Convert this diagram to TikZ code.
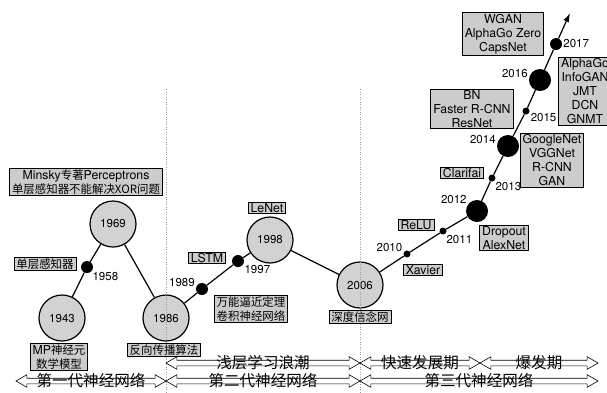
\documentclass[tikz,border=0pt]{standalone}
\usepackage{fontspec}
\setmainfont{TeX Gyre Heros}
\newfontfamily\cjk[Scale=0.93]{Noto Sans CJK SC}
\usetikzlibrary{arrows.meta,shapes.arrows}

\begin{document}
\begin{tikzpicture}[x=1pt,y=-1pt,
    year/.style={circle,draw,line width=1.2pt,fill=gray!35,minimum size=46pt,inner sep=0pt,font=\fontsize{11.5}{13}\selectfont},
    bigdot/.style={circle,fill,inner sep=0pt,minimum size=22pt},
    middot/.style={circle,fill,inner sep=0pt,minimum size=12pt},
    smalldot/.style={circle,fill,inner sep=0pt,minimum size=7pt},
    yr/.style={font=\fontsize{11.5}{13}\selectfont,inner sep=1pt},
    event/.style={draw,fill=gray!40,line width=0.8pt,inner xsep=2.5pt,inner ysep=1pt,align=center,font=\fontsize{12.3}{14.2}\selectfont},
    phase/.style={double arrow,draw,line width=0.6pt,inner xsep=0pt,inner ysep=2.5pt,double arrow head extend=3.5pt,double arrow tip angle=60},
    phasetext/.style={font=\cjk\fontsize{16.7}{18}\selectfont,inner sep=0pt}
]
    \useasboundingbox (0,0) rectangle (607,392);
    % Circles
    \node[year] (y1943) at (62,318) {1943};
    \node[year] (y1969) at (113,224) {1969};
    \node[year] (y1986) at (166,318) {1986};
    \node[year] (y1998) at (270,240) {1998};
    \node[year] (y2006) at (360,285) {2006};
    % Dots
    \node[middot,label={[yr]-45:1958}] (d1958) at (87,267) {};
    \node[middot,label={[yr]168:1989}] (d1989) at (202,289) {};
    \node[middot,label={[yr]-30:1997}] (d1997) at (238,261) {};
    \node[smalldot,label={[yr]165:2010}] (d2010) at (407,254) {};
    \node[smalldot,label={[yr]-50:2011}] (d2011) at (443,231) {};
    \node[bigdot,label={[yr]145:2012}] (d2012) at (477,211) {};
    \node[smalldot,label={[yr]-50:2013}] (d2013) at (492,178) {};
    \node[bigdot,label={[yr]175:2014}] (d2014) at (508,146) {};
    \node[smalldot,label={[yr]-15:2015}] (d2015) at (526,111) {};
    \node[bigdot,label={[yr]175:2016}] (d2016) at (540,80) {};
    \node[middot,label={[yr]0:2017}] (d2017) at (556,44) {};
    \coordinate (tip) at (570,13);
    % Timeline
    \draw[line width=1.2pt,-{Latex[length=9pt,width=6pt]}] (y1943) -- (d1958) -- (y1969) -- (y1986) -- (d1989) -- (d1997) -- (y1998) -- (y2006)
        -- (d2010) -- (d2011) -- (d2012) -- (d2013) -- (d2014) -- (d2015) -- (d2016) -- (d2017) -- (tip);
    % Eras
    \draw[gray!80,line width=0.6pt,dash pattern=on 1pt off 1.5pt] (166,89) -- (166,392);
    \draw[gray!80,line width=0.6pt,dash pattern=on 1pt off 1.5pt] (360,89) -- (360,392);
    % Events
    \node[event] (minsky) at (86,182) {Minsky{\cjk 专著}Perceptrons\\{\cjk 单层感知器不能解决XOR问题}};
    \node[event] (slp) at (45,264) {\cjk 单层感知器};
    \node[event] (mp) at (59,357) {MP{\cjk 神经元}\\{\cjk 数学模型}};
    \node[event] (bp) at (164,350) {\cjk 反向传播算法};
    \node[event] (lstm) at (207,258) {LSTM};
    \node[event] (lenet) at (267,208) {LeNet};
    \node[event] (uat) at (251,309) {{\cjk 万能逼近定理}\\{\cjk 卷积神经网络}};
    \node[event] (dbn) at (360,317) {\cjk 深度信念网};
    \node[event] (xavier) at (423,270) {Xavier};
    \node[event] (relu) at (416,225) {ReLU};
    \node[event] (alexnet) at (504,238) {Dropout\\AlexNet};
    \node[event] (clarifai) at (462,173) {Clarifai};
    \node[event] (googlenet) at (552,160) {GoogleNet\\VGGNet\\R-CNN\\GAN};
    \node[event] (resnet) at (472,109) {BN\\Faster R-CNN\\ResNet};
    \node[event] (alphago) at (585,91) {AlphaGo\\InfoGAN\\JMT\\DCN\\GNMT};
    \node[event] (wgan) at (503,34) {WGAN\\AlphaGo Zero\\CapsNet};
    % Phases
    \node[phase,minimum height=194pt,label={[phasetext]center:浅层学习浪潮}] (shallow) at (263,363) {};
    \node[phase,minimum height=120pt,label={[phasetext]center:快速发展期}] (fast) at (420,363) {};
    \node[phase,minimum height=118pt,label={[phasetext]center:爆发期}] (boom) at (539,363) {};
    \node[phase,minimum height=150pt,label={[phasetext]center:第一代神经网络}] (gen1) at (91,381) {};
    \node[phase,minimum height=194pt,label={[phasetext]center:第二代神经网络}] (gen2) at (263,381) {};
    \node[phase,minimum height=238pt,label={[phasetext]center:第三代神经网络}] (gen3) at (479,381) {};
\end{tikzpicture}
\end{document}
